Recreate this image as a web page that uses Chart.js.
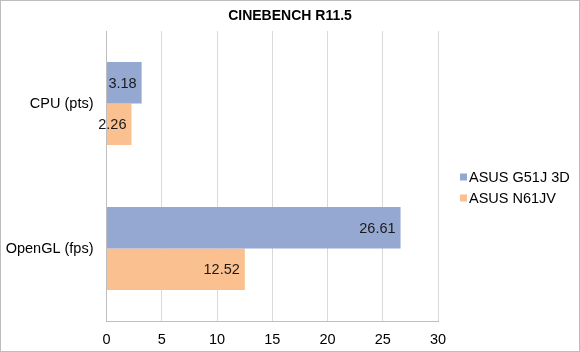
<!DOCTYPE html>
<html>
<head>
<meta charset="utf-8">
<script src="https://cdn.jsdelivr.net/npm/chart.js@4/dist/chart.umd.min.js"></script>
<style>
  body { margin: 0; background: #fff; }
  #wrap { width: 580px; height: 352px; position: relative; }
</style>
</head>
<body>
<div id="wrap"><canvas id="myChart"></canvas></div>
<script>
const categories = ["CPU (pts)", "OpenGL (fps)"];
const seriesNames = ["ASUS G51J 3D", "ASUS N61JV"];
const g51jValues = [3.18, 26.61];
const n61jvValues = [2.26, 12.52];
const xTicks = [0, 5, 10, 15, 20, 25, 30];
const chartTitle = "CINEBENCH R11.5";

const FONT = "'Liberation Sans', Arial, sans-serif";

// white background, title across the whole picture, thin grey frame
const framePlugin = {
  id: "frame",
  beforeDraw(chart) {
    const ctx = chart.ctx;
    ctx.save();
    ctx.fillStyle = "#fff";
    ctx.fillRect(0, 0, chart.width, chart.height);
    ctx.restore();
  },
  afterDraw(chart) {
    const ctx = chart.ctx;
    ctx.save();
    ctx.fillStyle = "#000";
    ctx.font = "bold 14px " + FONT;
    ctx.textAlign = "center";
    ctx.textBaseline = "middle";
    ctx.fillText(chartTitle, chart.width / 2, 16);
    ctx.strokeStyle = "#bdbdbd";
    ctx.lineWidth = 1;
    ctx.strokeRect(0.5, 0.5, chart.width - 1, chart.height - 1);
    ctx.restore();
  },
};

// value labels inside the end of each bar
const valueLabels = {
  id: "valueLabels",
  afterDatasetsDraw(chart) {
    const ctx = chart.ctx;
    ctx.save();
    ctx.font = "14.5px " + FONT;
    ctx.fillStyle = "#1a1a1a";
    ctx.textAlign = "right";
    ctx.textBaseline = "middle";
    chart.data.datasets.forEach((ds, i) => {
      chart.getDatasetMeta(i).data.forEach((bar, j) => {
        ctx.fillText(ds.data[j].toFixed(2), bar.x - 5, bar.y + 1);
      });
    });
    ctx.restore();
  },
};

// legend on the right, in the space kept free by layout padding
const sideLegend = {
  id: "sideLegend",
  afterDraw(chart) {
    const ctx = chart.ctx;
    ctx.save();
    ctx.font = "14.5px " + FONT;
    ctx.textAlign = "left";
    ctx.textBaseline = "middle";
    chart.data.datasets.forEach((ds, i) => {
      const y = 177 + i * 21;
      ctx.fillStyle = ds.backgroundColor;
      ctx.fillRect(460, y - 3.5, 7, 7);
      ctx.fillStyle = "#000";
      ctx.fillText(ds.label, 469, y + 1);
    });
    ctx.restore();
  },
};

const data = {
  labels: categories,
  datasets: [
    {
      label: seriesNames[0],
      data: g51jValues,
      backgroundColor: "#94a8d1",
    },
    {
      label: seriesNames[1],
      data: n61jvValues,
      backgroundColor: "#fbc08f",
    },
  ],
};

const config = {
  type: "bar",
  data,
  options: {
    indexAxis: "y",
    responsive: true,
    maintainAspectRatio: false,
    animation: false,
    layout: {
      padding: { left: 5, right: 142, top: 31, bottom: 0 },
    },
    datasets: {
      bar: {
        categoryPercentage: 0.572,
        barPercentage: 1,
      },
    },
    scales: {
      x: {
        min: 0,
        max: 30,
        afterBuildTicks(scale) {
          scale.ticks = xTicks.map((v) => ({ value: v }));
        },
        afterFit(scale) {
          scale.height = 31;
        },
        grid: { color: "#d9d9d9", drawTicks: false },
        border: { color: "#bfbfbf" },
        ticks: {
          padding: 10,
          color: "#000",
          font: { family: FONT, size: 14.5 },
        },
      },
      y: {
        afterFit(scale) {
          scale.width = 101.5;
        },
        grid: { display: false, drawTicks: false },
        border: { color: "#bfbfbf" },
        ticks: {
          padding: 13,
          color: "#000",
          font: { family: FONT, size: 14.5 },
        },
      },
    },
    plugins: {
      title: { display: false },
      legend: { display: false },
      tooltip: { enabled: false },
    },
  },
  plugins: [framePlugin, valueLabels, sideLegend],
};

const myChart = new Chart(document.getElementById("myChart"), config);
</script>
</body>
</html>
